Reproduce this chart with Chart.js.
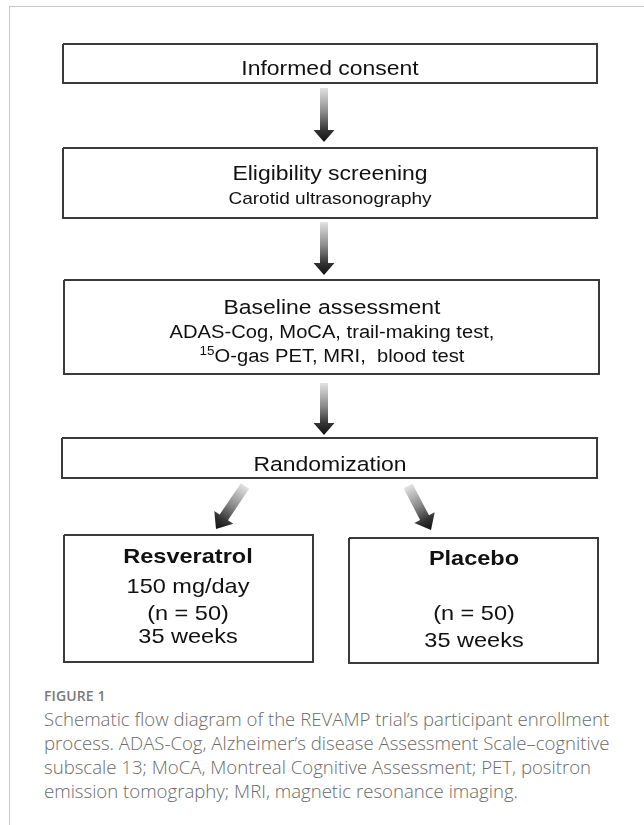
<!DOCTYPE html>
<html>
<head>
<meta charset="utf-8">
<script src="https://cdn.jsdelivr.net/npm/chart.js@4/dist/chart.umd.min.js"></script>
<style>
  html, body { margin:0; padding:0; background:#fff; width:644px; height:825px; overflow:hidden; }
  #frameTop { position:absolute; left:9px; top:6px; width:635px; height:0; border-top:1.5px solid #c9c9c9; }
  #frameLeft { position:absolute; left:9px; top:6px; width:0; height:819px; border-left:1.5px solid #c9c9c9; }
  #wrap { position:absolute; left:0; top:0; width:644px; height:680px; }
  #capLabel { position:absolute; left:44px; top:687px; font-family:"Open Sans", sans-serif; font-weight:600; font-size:14px; line-height:18px; color:#7a7a7a; letter-spacing:0.1px; white-space:nowrap; }
  #caption { position:absolute; left:44px; top:707px; font-family:"Open Sans", Lato, sans-serif; font-weight:300; font-size:18.6px; line-height:24px; color:#6a6a6a; white-space:nowrap; }
</style>
</head>
<body>
<div id="frameTop"></div>
<div id="frameLeft"></div>
<div id="wrap"><canvas id="c" width="644" height="680"></canvas></div>
<div id="capLabel">FIGURE 1</div>
<div id="caption"></div>
<script>
// ---------------- data (content of the flow diagram) ----------------
const stepTitles  = ["Informed consent", "Eligibility screening", "Baseline assessment", "Randomization"];
const stepDetails = [
  [],
  ["Carotid ultrasonography"],
  ["ADAS-Cog, MoCA, trail-making test,", ["15", "O-gas PET, MRI,  blood test"]],
  []
];
const armNames  = ["Resveratrol", "Placebo"];
const armDoses  = ["150 mg/day", ""];
const armN      = [50, 50];
const armWeeks  = [35, 35];
const figureLabel = "FIGURE 1";
const captionLines = [
  "Schematic flow diagram of the REVAMP trial\u2019s participant enrollment",
  "process. ADAS-Cog, Alzheimer\u2019s disease Assessment Scale\u2013cognitive",
  "subscale 13; MoCA, Montreal Cognitive Assessment; PET, positron",
  "emission tomography; MRI, magnetic resonance imaging."
];

// ---------------- layout (positions / sizes, in axis units) ----------------
const stepBoxes = [
  { x0: 63, x1: 597, y0: 44,  y1: 83,  cx: 330, base: [75] },
  { x0: 63, x1: 597, y0: 148, y1: 218, cx: 330, base: [180, 204] },
  { x0: 64, x1: 599, y0: 280, y1: 374, cx: 332, base: [314, 338, 362] },
  { x0: 62, x1: 597, y0: 438, y1: 478, cx: 330, base: [471] }
];
const armBoxes = [
  { x0: 64, x1: 313, y0: 535, y1: 662, cx: 188, base: [563, 593, 620, 643] },
  { x0: 349, x1: 598, y0: 538, y1: 663, cx: 474, base: [565, 593, 620, 647] }
];
const arrows = [
  { x0: 324, y0: 88,  x1: 324, y1: 142, shaft: 8,  head: 21, headLen: 12 },
  { x0: 324, y0: 222, x1: 324, y1: 275, shaft: 8,  head: 21, headLen: 12 },
  { x0: 324, y0: 383, x1: 324, y1: 435, shaft: 8,  head: 21, headLen: 12 },
  { x0: 245, y0: 486, x1: 216, y1: 529, shaft: 10, head: 23, headLen: 14 },
  { x0: 408, y0: 486, x1: 431, y1: 530, shaft: 10, head: 23, headLen: 14 }
];

document.getElementById('capLabel').textContent = figureLabel;
const capEl = document.getElementById('caption');
captionLines.forEach((l, i) => {
  if (i) capEl.appendChild(document.createElement('br'));
  capEl.appendChild(document.createTextNode(l));
});

const STRETCH = 1.12;
const FONT = '"Liberation Sans", Arial, sans-serif';

function rectData(b) {
  return [{x:b.x0,y:b.y0},{x:b.x1,y:b.y0},{x:b.x1,y:b.y1},{x:b.x0,y:b.y1},{x:b.x0,y:b.y0}];
}
const datasets = stepBoxes.concat(armBoxes).map(b => ({
  type: 'line',
  data: rectData(b),
  showLine: true,
  fill: false,
  tension: 0,
  borderColor: '#3a3a3a',
  borderWidth: 2,
  pointRadius: 0,
  borderJoinStyle: 'miter'
}));

function drawArrow(ctx, sx, sy, ex, ey, shaft, head, headLen) {
  const dx = ex - sx, dy = ey - sy, len = Math.hypot(dx, dy);
  const ux = dx / len, uy = dy / len, nx = -uy, ny = ux;
  const hbx = ex - ux * headLen, hby = ey - uy * headLen;
  const s = shaft / 2, h = head / 2;
  const g = ctx.createLinearGradient(sx, sy, ex, ey);
  g.addColorStop(0, '#e2e2e2');
  g.addColorStop(0.45, '#8a8a8a');
  g.addColorStop(0.78, '#333');
  g.addColorStop(1, '#111');
  ctx.beginPath();
  ctx.moveTo(sx + nx * s, sy + ny * s);
  ctx.lineTo(hbx + nx * s, hby + ny * s);
  ctx.lineTo(hbx + nx * h, hby + ny * h);
  ctx.lineTo(ex, ey);
  ctx.lineTo(hbx - nx * h, hby - ny * h);
  ctx.lineTo(hbx - nx * s, hby - ny * s);
  ctx.lineTo(sx - nx * s, sy - ny * s);
  ctx.closePath();
  ctx.fillStyle = g;
  ctx.fill();
}

function drawLine(ctx, parts, cx, base) {
  let total = 0;
  parts.forEach(p => { ctx.font = p.font; p.w = ctx.measureText(p.t).width; total += p.w; });
  ctx.save();
  ctx.translate(cx, base);
  ctx.scale(STRETCH, 1);
  let x = -total / 2;
  ctx.textAlign = 'left';
  ctx.textBaseline = 'alphabetic';
  parts.forEach(p => { ctx.font = p.font; ctx.fillText(p.t, x, p.dy || 0); x += p.w; });
  ctx.restore();
}

const flowPlugin = {
  id: 'flow',
  afterDatasetsDraw(chart) {
    const { ctx } = chart;
    const X = v => chart.scales.x.getPixelForValue(v);
    const Y = v => chart.scales.y.getPixelForValue(v);
    ctx.save();
    arrows.forEach(a => drawArrow(ctx, X(a.x0), Y(a.y0), X(a.x1), Y(a.y1), a.shaft, a.head, a.headLen));
    ctx.fillStyle = '#111';
    stepBoxes.forEach((b, i) => {
      drawLine(ctx, [{ t: stepTitles[i], font: '20.5px ' + FONT }], X(b.cx), Y(b.base[0]));
      stepDetails[i].forEach((d, j) => {
        const bx = X(b.cx), by = Y(b.base[j + 1]);
        if (Array.isArray(d)) {
          drawLine(ctx, [{ t: d[0], font: '12px ' + FONT, dy: -7 }, { t: d[1], font: '18px ' + FONT }], bx, by);
        } else {
          drawLine(ctx, [{ t: d, font: (i === 1 ? '17px ' : '18px ') + FONT }], bx, by);
        }
      });
    });
    armBoxes.forEach((b, i) => {
      const bx = X(b.cx);
      drawLine(ctx, [{ t: armNames[i], font: 'bold 21px ' + FONT }], bx, Y(b.base[0]));
      if (armDoses[i]) drawLine(ctx, [{ t: armDoses[i], font: '21px ' + FONT }], bx, Y(b.base[1]));
      drawLine(ctx, [{ t: '(n = ' + armN[i] + ')', font: '21px ' + FONT }], bx, Y(b.base[2]));
      drawLine(ctx, [{ t: armWeeks[i] + ' weeks', font: '21px ' + FONT }], bx, Y(b.base[3]));
    });
    ctx.restore();
  }
};

new Chart(document.getElementById('c'), {
  type: 'scatter',
  data: { datasets },
  options: {
    responsive: false,
    devicePixelRatio: 1,
    animation: false,
    events: [],
    layout: { padding: 0 },
    plugins: { legend: { display: false }, tooltip: { enabled: false }, title: { display: false } },
    scales: {
      x: { type: 'linear', min: 0, max: 644, display: false },
      y: { type: 'linear', min: 0, max: 680, reverse: true, display: false }
    }
  },
  plugins: [flowPlugin]
});
</script>
</body>
</html>
